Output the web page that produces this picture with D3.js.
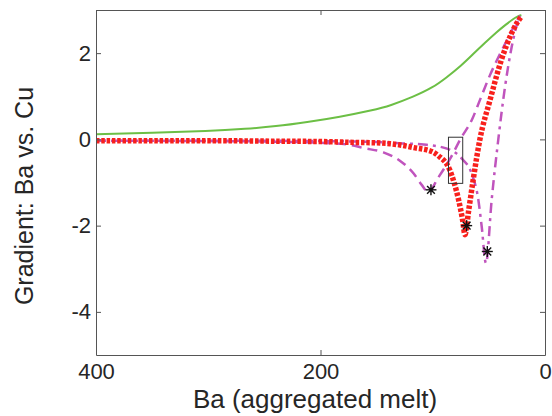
<!DOCTYPE html>
<html><head><meta charset="utf-8">
<script src="https://cdn.jsdelivr.net/npm/d3@7"></script>
<style>body{margin:0;background:#fff}svg{display:block}text{font-family:Arial,"Liberation Sans",sans-serif;fill:#262626}</style>
</head><body><svg id="c" width="552" height="416"></svg>
<script>
// Data
const greenX = [400, 350, 300, 266, 240, 212, 183, 153, 138, 117, 100, 88, 75, 64, 53, 43, 35, 28, 24, 21];
const greenY = [0.12, 0.15, 0.19, 0.245, 0.30, 0.40, 0.52, 0.68, 0.78, 0.99, 1.20, 1.43, 1.70, 1.98, 2.25, 2.49, 2.66, 2.80, 2.86, 2.88];

const redX = [400, 300, 250, 200, 170, 150, 138, 129, 117, 100, 95, 85, 81, 77, 73.4, 71.3, 68, 64, 58, 49, 39, 30, 25, 21];
const redY = [-0.03, -0.03, -0.04, -0.05, -0.07, -0.08, -0.10, -0.13, -0.19, -0.29, -0.38, -0.70, -1.0, -1.40, -1.87, -2.21, -1.65, -0.94, 0, 0.91, 1.83, 2.45, 2.70, 2.85];

const dashX = [400, 300, 250, 200, 173, 162, 144, 129, 117, 110, 104, 95, 85, 75, 65, 58, 49, 37, 28, 22.3];
const dashY = [-0.03, -0.04, -0.05, -0.08, -0.13, -0.20, -0.30, -0.50, -0.79, -1.05, -1.22, -0.88, -0.47, 0.02, 0.46, 0.91, 1.49, 2.14, 2.60, 2.87];

const dashDotX = [400, 300, 200, 150, 130, 108, 88, 74.3, 65.4, 59.4, 56.4, 52.6, 47.5, 41.6, 35.6, 29.7, 23.8, 22.3];
const dashDotY = [-0.03, -0.03, -0.04, -0.06, -0.09, -0.12, -0.21, -0.44, -0.79, -1.40, -2.02, -2.87, -1.40, 0, 1.22, 2.14, 2.76, 2.85];

const starX = [101.6, 69.8, 51.4];
const starY = [-1.17, -2.0, -2.6];

const boxX = [86, 73.3];
const boxY = [0.05, -1.02];

const xTicks = [400, 200, 0];
const yTicks = [-4, -2, 0, 2];
const xLabel = "Ba (aggregated melt)";
const yLabel = "Gradient: Ba vs. Cu";

const svg = d3.select("#c");
const x = d3.scaleLinear().domain([400, 0]).range([96, 545]);
const y = d3.scaleLinear().domain([3, -5]).range([10, 355]);

const line = d3.line().x(d => x(d[0])).y(d => y(d[1])).curve(d3.curveMonotoneX);
const smoothLine = d3.line().x(d => x(d[0])).y(d => y(d[1])).curve(d3.curveBasis);
const zip = (a, b) => a.map((v, i) => [v, b[i]]);

const plot = svg.append("g");
plot.append("path").datum(zip(greenX, greenY)).attr("d", smoothLine)
  .attr("fill", "none").attr("stroke", "#6cbf45").attr("stroke-width", 2);
plot.append("path").datum(zip(dashX, dashY)).attr("d", line)
  .attr("fill", "none").attr("stroke", "#c054bd").attr("stroke-width", 2.5).attr("stroke-dasharray", "10 6");
plot.append("path").datum(zip(dashDotX, dashDotY)).attr("d", line)
  .attr("fill", "none").attr("stroke", "#c054bd").attr("stroke-width", 2.5).attr("stroke-dasharray", "10 5 3 5");
plot.append("path").datum(zip(redX, redY)).attr("d", line)
  .attr("fill", "none").attr("stroke", "#f8201c").attr("stroke-width", 5.5).attr("stroke-dasharray", "3.5 1.8");

// box
plot.append("rect")
  .attr("x", x(boxX[0])).attr("y", y(boxY[0]))
  .attr("width", x(boxX[1]) - x(boxX[0])).attr("height", y(boxY[1]) - y(boxY[0]))
  .attr("fill", "none").attr("stroke", "#333").attr("stroke-width", 1);

// stars
const r = 5.5;
const starG = plot.selectAll(".star").data(zip(starX, starY)).join("g")
  .attr("transform", d => `translate(${x(d[0])},${y(d[1])})`);
[0, 45, 90, 135].forEach(a => {
  const rad = a * Math.PI / 180;
  starG.append("line")
    .attr("x1", -r * Math.cos(rad)).attr("y1", -r * Math.sin(rad))
    .attr("x2", r * Math.cos(rad)).attr("y2", r * Math.sin(rad))
    .attr("stroke", "#111").attr("stroke-width", 1.4);
});
starG.append("circle").attr("r", 1.8).attr("fill", "#111");

// axes
const fmt = d => String(d);
const axCol = "#555";
function style(g, showText) {
  g.selectAll("path.domain").attr("stroke", axCol).attr("stroke-width", 1);
  g.selectAll(".tick line").attr("stroke", axCol);
  g.selectAll(".tick text").attr("font-size", 22).attr("fill", "#262626")
    .style("font-family", "Arial, 'Liberation Sans', sans-serif");
  if (!showText) g.selectAll(".tick text").remove();
}
svg.append("g").attr("transform", "translate(0,355)")
  .call(d3.axisBottom(x).tickValues(xTicks).tickFormat(fmt).tickSize(-5).tickSizeOuter(0).tickPadding(8))
  .call(g => style(g, true));
svg.append("g").attr("transform", "translate(0,10)")
  .call(d3.axisTop(x).tickValues(xTicks).tickSize(-5).tickSizeOuter(0))
  .call(g => style(g, false));
svg.append("g").attr("transform", "translate(96,0)")
  .call(d3.axisLeft(y).tickValues(yTicks).tickFormat(fmt).tickSize(-5).tickSizeOuter(0).tickPadding(5))
  .call(g => style(g, true));
svg.append("g").attr("transform", "translate(545,0)")
  .call(d3.axisRight(y).tickValues(yTicks).tickSize(-5).tickSizeOuter(0))
  .call(g => style(g, false));

// labels
svg.append("text").attr("x", 315).attr("y", 408).attr("text-anchor", "middle")
  .attr("font-size", 26).text(xLabel);
svg.append("text").attr("transform", "translate(33,196) rotate(-90)").attr("text-anchor", "middle")
  .attr("font-size", 25).text(yLabel);
</script></body></html>
